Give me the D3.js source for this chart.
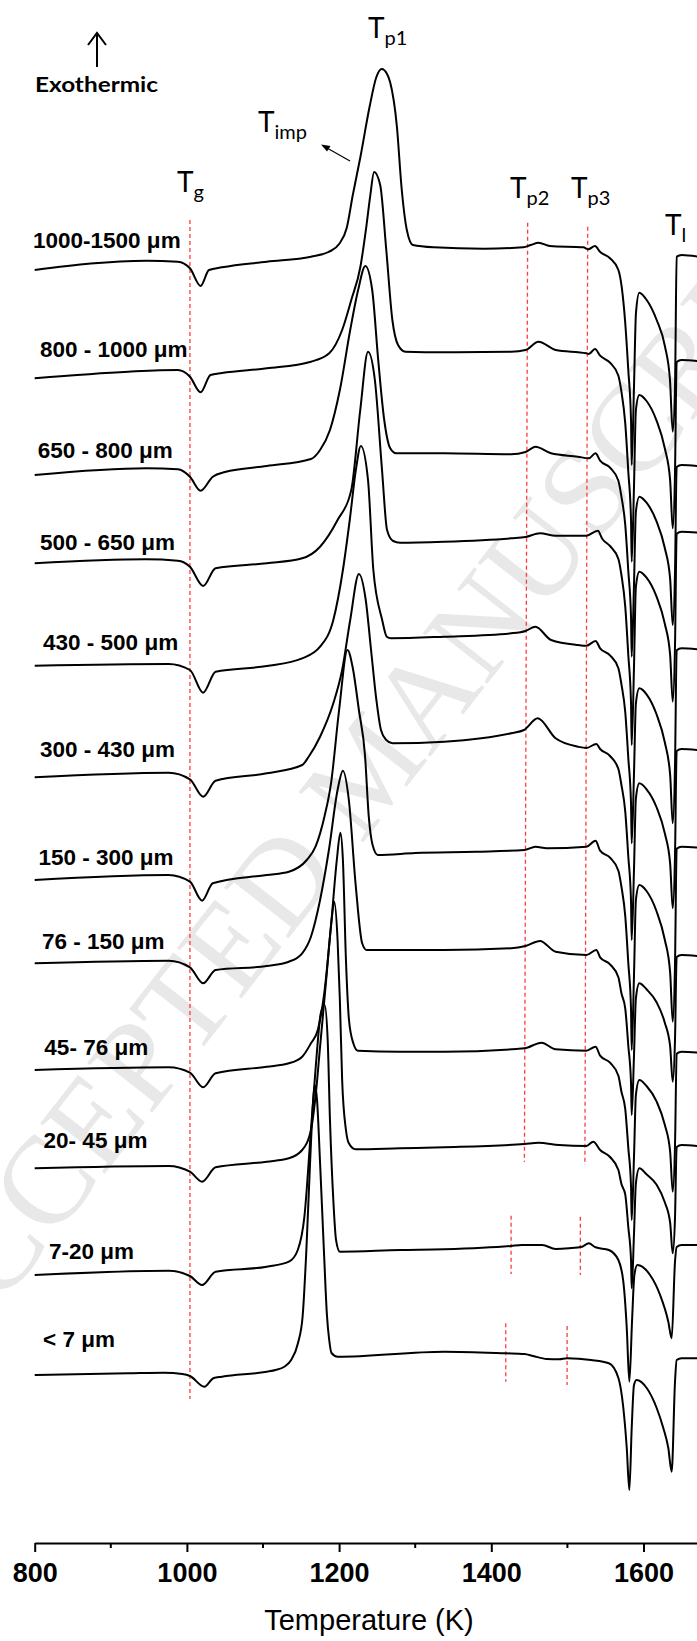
<!DOCTYPE html>
<html><head><meta charset="utf-8">
<script src="https://cdn.jsdelivr.net/npm/d3@7"></script>
<style>body{margin:0;background:#fff}svg{display:block}</style>
</head><body>
<svg id="chart" width="697" height="1641"></svg>
<script>
// ---- data (heat flow in arbitrary units, relative to each curve's start; offsets stack the curves) ----
const sizeLabels = ["1000-1500 \u03bcm","800 - 1000 \u03bcm","650 - 800 \u03bcm","500 - 650 \u03bcm","430 - 500 \u03bcm","300 - 430 \u03bcm","150 - 300 \u03bcm","76 - 150 \u03bcm","45- 76 \u03bcm","20- 45 \u03bcm","7-20 \u03bcm","< 7 \u03bcm"];
const offsets = [1273, 1164.7, 1068, 979.7, 877.3, 765.7, 663, 579.7, 473, 374.7, 268, 168];
const labelT = [797.8, 807, 804, 807, 811, 807, 805, 809.6, 812.7, 811.7, 818.8, 811];
const labelDy = [21.7, 21.6, 16.7, 13.3, 15.7, 20.3, 15, 14, 15, 20.3, 16, 28];

const c1 = [[800,0],[947,9.3],[988,8.3],[1004,1.7],[1018,-16],[1029,0],[1046,2.7],[1105,8.3],[1163,13.3],[1187,18.3],[1200,26],[1210,42],[1218,75],[1228,113],[1240,163],[1249,193],[1256,201],[1263,196],[1267,188],[1276,143],[1282,83],[1289,40],[1297,25],[1324,22.7],[1390,21.3],[1442,22.7],[1452,25],[1462,27.3],[1477,24],[1521,22.7],[1527.4,20.7],[1536.3,24],[1542.8,18.3],[1556,11.7],[1567,0],[1571.3,-16.7],[1575.7,-50],[1580,-100],[1583.6,-150],[1584.5,-195],[1587.5,-116.7],[1590.1,-43],[1594.5,-22.7],[1604.2,-30],[1617.3,-50],[1628.3,-76.7],[1634.8,-110],[1638.4,-161.7],[1641.4,-116.7],[1643.6,13.3],[1650.2,15],[1672,13.3]];
const c2 = [[800,0],[923,6.6],[988,8.3],[1004,1.6],[1018,-14],[1031,3.3],[1046,5.3],[1105,10],[1163,16.6],[1187,25],[1204,48.3],[1216,78.3],[1228,111.6],[1236,153],[1241,183],[1246,206.3],[1254,193.3],[1262,128.3],[1270,58.3],[1277.5,33.3],[1287,26.6],[1338,26],[1426,26.6],[1445,28.3],[1462,36.6],[1484.5,28.3],[1525,25],[1528,24.3],[1536.3,29.3],[1543,22.6],[1556,15.6],[1567,2.6],[1571,-13.4],[1576,-44.8],[1580,-93.1],[1583.6,-141.4],[1584.5,-183.4],[1587.5,-108.4],[1590,-31.7],[1594.5,-16.7],[1604,-22.7],[1617,-42],[1628,-70],[1635,-102],[1638.4,-150],[1641.4,-94.5],[1643.6,16.3],[1650,18.3],[1672,17.3]];
const c3 = [[800,0],[947,6.7],[988,5.7],[1004,-1.7],[1018,-15.7],[1034,-1.7],[1050,3],[1105,9],[1163,16],[1175,25],[1188,45],[1201,85],[1214.6,145],[1225,185],[1234.5,209],[1243.5,185],[1251.4,115],[1259.3,55],[1267,27],[1275,21.7],[1338,21.7],[1426,20.7],[1445,23],[1458,28.3],[1478.5,21.7],[1513.7,18.3],[1528,16.7],[1537,21.7],[1543,14.3],[1556,7.3],[1567,-5.7],[1571,-21.7],[1576,-49.7],[1580,-95.7],[1583.6,-141.7],[1584.5,-181.7],[1587.5,-109.7],[1590,-36.7],[1594.5,-21.7],[1604,-27.7],[1617,-46.1],[1628,-73],[1635,-103.8],[1638.4,-150],[1641.4,-97.2],[1643.6,8],[1650,10],[1672,9]];
const c4 = [[800,0],[946,4],[988,2.6],[1004,-3.4],[1021.3,-22.7],[1037.7,-5],[1105,0],[1151.5,5],[1175,16.6],[1198,43.3],[1216,73.3],[1227.8,153.3],[1238,211.6],[1247,183.3],[1256.4,93.3],[1263,33.3],[1271,22.3],[1280,20.6],[1338,21.6],[1426,25],[1445,26.3],[1464,30],[1484.5,27.6],[1525,27.6],[1540,32.6],[1546,24.3],[1556,17.3],[1567,4.3],[1571,-11.7],[1576,-43.1],[1580,-91.4],[1583.6,-139.7],[1584.5,-181.7],[1587.5,-103.7],[1590,-23.4],[1594.5,-8.4],[1604,-14.4],[1617,-33.1],[1628,-60.4],[1635,-91.6],[1638.4,-138.4],[1641.4,-82.3],[1643.6,29.6],[1650,31.6],[1672,30.6]];
const c5 = [[800,0],[976,1.7],[1004,-4.3],[1021.3,-27],[1037.7,-6],[1105,-0.3],[1151.5,7.4],[1175,19],[1192.4,45.7],[1205,95.7],[1214,145.7],[1222,195.7],[1228.6,219.7],[1238,185.7],[1245,95.7],[1256.6,45.7],[1262.6,29],[1268,27.4],[1338,29],[1426,32.4],[1445,34.7],[1458,39],[1478.5,25.7],[1513.7,20.7],[1525,20],[1537,24.7],[1543,17.4],[1556,10.4],[1567,-2.6],[1571,-18.6],[1576,-46.3],[1580,-92],[1583.6,-137.8],[1584.5,-177.6],[1587.5,-107.9],[1590,-37.6],[1594.5,-22.6],[1604,-28.6],[1617,-48.3],[1628,-76.6],[1635,-109],[1638.4,-157.6],[1641.4,-99.8],[1643.6,15.4],[1650,17.4],[1672,16.4]];
const c6 = [[800,0],[976,4.6],[1004,-2],[1021.3,-19.4],[1037.7,-3.4],[1105,4],[1151.5,12.3],[1160,20.6],[1175,40.6],[1192.4,74],[1204,107.3],[1214.6,157.3],[1226,203.3],[1235,177.3],[1242,127.3],[1249,77.3],[1255,47.3],[1262,37.3],[1270,34],[1338,35.6],[1426,44],[1443,47.3],[1461,59],[1484.5,39],[1513.7,30.6],[1525,29.3],[1538,33.3],[1543,28.3],[1556,21.3],[1567,8.3],[1571,-7.7],[1576,-34],[1580,-78.9],[1583.6,-123.7],[1584.5,-162.7],[1587.5,-92.2],[1590,-21],[1594.5,-6],[1604,-12],[1617,-29.7],[1628,-56],[1635,-86],[1638.4,-131],[1641.4,-78.4],[1643.6,26.3],[1650,28.3],[1672,27.3]];
const c7 = [[800,0],[976,5],[1004,-1.7],[1020,-20.7],[1034,-3.3],[1105,5],[1134,8.3],[1157.5,20],[1169,33.3],[1180.7,63.3],[1189.4,96.7],[1200,170],[1211,230],[1218,212],[1226,170],[1234,125],[1239,63.3],[1244,35],[1251,25],[1300,27],[1380,28.3],[1443.5,30],[1458,33.3],[1472.8,31.7],[1525,33.3],[1537,39.3],[1543,29.3],[1556,22.3],[1567,9.3],[1571,-6.7],[1576,-35.8],[1580,-82.6],[1583.6,-129.3],[1584.5,-170],[1587.5,-95.8],[1590,-20],[1594.5,-5],[1604,-11],[1617,-31],[1628,-59.7],[1635,-92.5],[1638.4,-141.7],[1641.4,-84],[1643.6,31.3],[1650,33.3],[1672,32.3]];
const c8 = [[800,0],[976,2.6],[1004,-4],[1021.3,-20],[1037.7,-6.7],[1105,-2.7],[1134,1.6],[1151.5,10],[1163,26.6],[1175,63.3],[1186.6,113.3],[1198,173.3],[1205,192.6],[1212.8,163.3],[1221.6,80],[1230.3,20],[1236.2,13.3],[1280,13.3],[1338,13.3],[1426,15],[1445,17.3],[1464,22.3],[1484.5,11.6],[1525,8.3],[1538,13.3],[1543,6],[1556,-1],[1567,-14],[1571,-30],[1576,-45],[1580,-82.2],[1583.6,-119.4],[1584.5,-151.7],[1587.5,-92.4],[1590,-35],[1594.5,-20],[1604,-26],[1617,-38.7],[1628,-59.4],[1635,-83],[1638.4,-118.4],[1641.4,-76.6],[1643.6,6.3],[1650,8.3],[1672,7.3]];
const c9 = [[800,0],[976,2.7],[1004,-2.7],[1021.3,-17.3],[1037.7,-3.3],[1105,3.3],[1134,6.7],[1151.5,13.3],[1163,26.7],[1172,40],[1181,80],[1190,150],[1197,210],[1201.7,237.3],[1205,210],[1209,110],[1213,50],[1218.7,26.7],[1224.6,19.3],[1280,18.3],[1338,18.3],[1443.5,21.7],[1465.8,27.3],[1484.5,20.7],[1525,19.3],[1537,23.3],[1543,14.3],[1556,7.3],[1567,-5.7],[1571,-21.7],[1576,-38.9],[1580,-77.6],[1583.6,-116.3],[1584.5,-150],[1587.5,-87],[1590,-25],[1594.5,-10],[1604,-16],[1617,-31.2],[1628,-54.7],[1635,-81.5],[1638.4,-121.7],[1641.4,-75.5],[1643.6,16.3],[1650,18.3],[1672,17.3]];
const c10 = [[800,0],[976,2.3],[1004,-3.4],[1020,-13.4],[1037.7,1],[1105,6.6],[1134,10],[1151.5,18.3],[1163,38.3],[1169,71.6],[1175,121.6],[1183,188.3],[1189.5,243.3],[1193.6,266.6],[1198,228.3],[1201,168.3],[1204,88.3],[1209,38.3],[1212.8,25],[1221.6,19],[1280,20],[1338,21],[1443.5,24.3],[1462,25.6],[1489,23.3],[1525,22.3],[1534,26.6],[1543,18.3],[1556,11.3],[1567,-1.7],[1571,-15.7],[1576,-26.1],[1580,-58.7],[1583.6,-91.5],[1584.5,-120],[1587.5,-66],[1590,-15],[1594.5,0],[1604,-6],[1617,-16.2],[1628,-34],[1635,-54.4],[1638.4,-85],[1641.4,-49.3],[1643.6,21.3],[1650,23.3],[1672,22.3]];
const c11 = [[800,0],[976,4.3],[1004,-1],[1020,-10],[1037.7,3.3],[1105,8.3],[1134,13.3],[1145.7,25],[1154.4,58.3],[1163,145],[1170,215],[1176,262],[1181,270],[1185,235],[1188,155],[1192.4,75],[1196,35],[1201,23.3],[1280,25],[1338,25.7],[1426,29],[1440,30],[1467,30],[1484.5,26],[1502,26.7],[1519.4,28.3],[1528,31.7],[1537,27.7],[1554.5,25],[1567,15],[1573.5,-6.7],[1578,-53],[1581.4,-106.7],[1585,-45],[1588,0],[1591.9,10],[1608.6,0],[1621.8,-20],[1632.6,-46.7],[1637,-63.3],[1641.4,13.3],[1643.6,28],[1650,30],[1672,30]];
const c12 = [[800,0],[923,1.7],[970,2.3],[994,1],[1004,-1],[1023,-11.7],[1034.7,-3.3],[1046,-1.7],[1105,3.3],[1116.5,5],[1128,8.3],[1137,15],[1146,32],[1152,58],[1157,125],[1162,215],[1166,275],[1168,290],[1171,275],[1175,212],[1180,125],[1184,60],[1187,35],[1190,22],[1198,18.3],[1338,23.3],[1419,21.7],[1443.5,21],[1455,19],[1472.8,16],[1489,15.7],[1499.6,16.7],[1531,15],[1554.5,11.7],[1567,-3],[1573.5,-33],[1578,-73],[1581.4,-115],[1584.5,-53],[1587.5,-10],[1591,-5],[1604.2,-13],[1617.3,-33],[1626,-53],[1632.6,-73],[1637,-96.7],[1641.4,-6.7],[1643.6,15],[1650,16.7],[1672,16.7]];
const curves = [c1,c2,c3,c4,c5,c6,c7,c8,c9,c10,c11,c12];

// characteristic temperature markers: [T top, T bottom, level top, level bottom]
const markerLines = [[1004,1004,1323,144],[1447.8,1443.5,1320.3,381],[1526.7,1523,1316.3,378],[1426,1426,327.3,269],[1517,1517,326.3,268],[1419,1419,219.7,161.3],[1499.6,1499.6,217,158]];
const majorTicks = [800,1000,1200,1400,1600];
const minorTicks = [900,1100,1300,1500];

// ---- drawing ----
const svg = d3.select("#chart");
const axisY = 1543;
const x = d3.scaleLinear().domain([800,1700]).range([34.7,719.6]);
const y = d3.scaleLinear().domain([0,1500]).range([axisY, axisY-1500]);

// watermark
svg.append("text").attr("transform","translate(378,777) rotate(-52)")
  .attr("text-anchor","middle").attr("dominant-baseline","middle")
  .style("font-family","'Liberation Serif', serif").style("font-size","125px")
  .attr("fill","#e8e8e8").text("ACCEPTED MANUSCRIPT");

// marker dashed lines
svg.append("g").selectAll("line").data(markerLines).join("line")
  .attr("x1",d=>x(d[0])).attr("x2",d=>x(d[1]))
  .attr("y1",d=>y(d[2])).attr("y2",d=>y(d[3]))
  .attr("stroke","#ff3b3b").attr("stroke-width",1.3).attr("stroke-dasharray","4,3");

// curves
const line = d3.line().curve(d3.curveMonotoneX);
svg.append("g").selectAll("path").data(curves).join("path")
  .attr("d",(c,i)=>line(c.map(p=>[x(p[0]), y(p[1]+offsets[i])])))
  .attr("fill","none").attr("stroke","#000").attr("stroke-width",2).attr("stroke-linejoin","round");

// size labels
svg.append("g").selectAll("text").data(sizeLabels).join("text")
  .attr("x",(d,i)=>x(labelT[i])).attr("y",(d,i)=>y(offsets[i]+labelDy[i]))
  .style("font-family","'Liberation Sans', Arial, sans-serif").style("font-weight","bold").style("font-size","22.5px")
  .text(d=>d);

// x axis
const ax = svg.append("g").attr("transform",`translate(0,${axisY})`)
  .call(d3.axisBottom(x).tickValues(majorTicks).tickFormat(d3.format("d")).tickSize(9).tickSizeOuter(0).tickPadding(10.5));
ax.select(".domain").attr("stroke-width",2);
ax.selectAll(".tick line").attr("stroke-width",2);
ax.selectAll(".tick text").style("font-family","'Liberation Sans', Arial, sans-serif").style("font-weight","bold").style("font-size","27px").attr("fill","#000");
svg.append("g").attr("transform",`translate(0,${axisY})`).selectAll("line").data(minorTicks).join("line")
  .attr("x1",d=>x(d)).attr("x2",d=>x(d)).attr("y1",0).attr("y2",5).attr("stroke","#000").attr("stroke-width",2);
svg.append("text").attr("x",369).attr("y",1630).attr("text-anchor","middle")
  .style("font-family","'Liberation Sans', Arial, sans-serif").style("font-size","29px").text("Temperature (K)");

// annotations
const ann = svg.append("g").style("font-family","Lato, 'Open Sans', sans-serif");
ann.append("line").attr("x1",97).attr("x2",97).attr("y1",67).attr("y2",33).attr("stroke","#000").attr("stroke-width",2);
ann.append("path").attr("d","M88,45 L97,33 L106,45").attr("fill","none").attr("stroke","#000").attr("stroke-width",2);
ann.append("text").attr("x",35).attr("y",92).style("font-weight","bold").style("font-size","20.5px").attr("textLength",123).attr("lengthAdjust","spacingAndGlyphs").text("Exothermic");
function sub(xp, yp, main, s){
  const t = ann.append("text").attr("x",xp).attr("y",yp).style("font-size","28px");
  t.append("tspan").text(main);
  t.append("tspan").attr("dy",7).style("font-size","20px").text(s);
}
sub(177,192,"T","g");
sub(258,132,"T","imp");
sub(368,38,"T","p1");
sub(510,198,"T","p2");
sub(571,198,"T","p3");
sub(665,235,"T","l");
// T_imp arrow
ann.append("line").attr("x1",350).attr("y1",161).attr("x2",327).attr("y2",148).attr("stroke","#000").attr("stroke-width",1.2);
ann.append("path").attr("d","M321,144.5 L330.5,146 L327,151.5 Z").attr("fill","#000");
</script>
</body></html>
